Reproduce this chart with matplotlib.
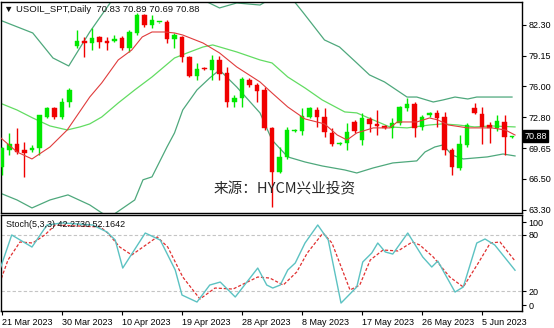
import matplotlib
matplotlib.use("Agg")
import matplotlib.pyplot as plt
import matplotlib.transforms as mtransforms

# daily candles, bar 0 = 21 Mar 2023
opens = [67.70, 69.47, 70.08, 69.47, 69.47, 69.67, 72.85, 73.78, 72.85, 74.40,
         80.14, 80.66, 80.45, 81.07, 80.66, 80.66, 80.97, 79.94, 81.48, 83.33,
         82.30, 82.60, 82.60, 80.86, 81.07, 79.01, 77.06, 77.89, 77.68, 78.71,
         77.37, 74.40, 74.80, 76.65, 76.14, 75.63, 71.73, 67.21, 68.75, 71.42,
         71.42, 72.85, 73.57, 72.85, 71.21, 70.10, 70.19, 72.34, 70.49, 72.65,
         72.14, 71.93, 71.73, 72.24, 73.78, 74.19, 71.83, 73.06, 73.27, 72.85,
         69.47, 67.62, 69.98, 73.78, 73.16, 72.03, 71.73, 72.34, 70.83]
highs = [69.80, 71.20, 71.70, 70.30, 70.00, 73.10, 73.90, 73.90, 74.80, 75.80,
         81.80, 81.07, 82.00, 81.17, 81.07, 81.27, 81.17, 81.80, 83.53, 83.43,
         83.33, 82.65, 82.81, 81.48, 81.17, 79.10, 78.40, 77.95, 79.22, 79.10,
         78.00, 75.10, 76.96, 76.86, 76.35, 75.93, 71.83, 69.78, 71.83, 71.60,
         73.78, 73.90, 73.88, 73.78, 71.73, 70.25, 72.24, 72.55, 73.27, 72.85,
         73.57, 72.00, 72.75, 73.98, 74.80, 74.40, 73.06, 73.40, 73.57, 73.37,
         69.67, 71.00, 72.24, 74.29, 73.88, 72.34, 73.06, 73.06, 70.89]
lows = [66.90, 68.95, 69.05, 66.70, 69.30, 68.95, 72.75, 72.65, 72.65, 73.88,
        79.94, 79.00, 79.73, 79.94, 79.73, 80.55, 79.73, 79.50, 81.27, 82.10,
        81.99, 82.50, 80.45, 79.94, 78.50, 76.96, 76.65, 77.70, 76.65, 76.65,
        73.88, 73.88, 73.88, 75.90, 74.40, 71.52, 63.60, 67.10, 68.54, 71.30,
        71.00, 72.75, 71.83, 70.80, 69.88, 70.00, 69.47, 71.21, 69.98, 71.31,
        71.00, 71.60, 70.70, 72.03, 73.47, 70.80, 71.52, 72.90, 71.83, 68.95,
        66.90, 67.41, 69.78, 73.20, 70.08, 70.19, 71.42, 68.95, 70.69]
closes = [69.67, 70.08, 69.26, 69.16, 69.67, 73.06, 73.78, 72.85, 74.40, 75.63,
          80.66, 80.45, 80.97, 80.55, 80.45, 80.86, 79.94, 81.58, 83.33, 82.30,
          82.81, 82.60, 80.86, 81.27, 79.01, 77.06, 77.78, 77.78, 78.71, 77.27,
          74.40, 74.80, 76.76, 76.14, 75.52, 71.73, 67.21, 68.75, 71.52, 71.52,
          72.96, 73.78, 72.85, 71.31, 70.08, 70.19, 71.31, 71.42, 72.75, 72.14,
          71.93, 71.73, 72.24, 73.88, 74.19, 71.73, 72.85, 73.27, 72.75, 69.47,
          67.72, 70.08, 72.03, 73.27, 71.83, 71.73, 72.44, 70.80, 70.88]

date_labels = ["21 Mar 2023", "30 Mar 2023", "10 Apr 2023", "19 Apr 2023", "28 Apr 2023",
               "8 May 2023", "17 May 2023", "26 May 2023", "5 Jun 2023"]
date_bars = [0, 8, 16, 24, 32, 40, 48, 56, 64]

price_ticks = [82.30, 79.15, 76.00, 72.80, 69.65, 66.50, 63.30]

# indicator lines (bar position, value)
upper_x = [-0.3, 4.1, 6.8, 8.9, 11.7, 14.7, 17, 20, 23, 26.8, 29, 31.3, 34.4, 36.5, 38.8,
           40.1, 43, 45, 47.3, 49, 51, 54, 55.3, 57.5, 58.8, 60.4, 62.1, 63.3, 68]
upper_y = [82.81, 81.48, 78.91, 78.09, 81.58, 84.87, 87.0, 88.5, 87.5, 84.87, 84.05, 84.56,
           84.35, 85.3, 84.87, 83.63, 80.76, 80.04, 78.40, 77.17, 76.45, 74.90, 74.90,
           74.39, 74.60, 74.90, 74.70, 74.90, 74.90]
mid_x = [-0.3, 2, 4.1, 6.4, 8.7, 10.4, 11.7, 13.3, 15.5, 17.7, 20, 23, 24.7, 26.8, 28.1,
         31.3, 34.4, 36, 38.1, 40.4, 42.7, 45.7, 47.3, 49.5, 51.7, 54, 57, 58.7, 60.8,
         63, 65.3, 68.4]
mid_y = [74.29, 73.57, 72.75, 71.93, 71.52, 71.83, 72.14, 72.85, 74.29, 75.63, 76.96,
         78.91, 79.43, 80.04, 80.25, 79.53, 78.71, 78.40, 76.96, 75.83, 74.60, 73.37,
         73.27, 72.55, 71.83, 71.73, 72.03, 72.14, 72.03, 71.83, 71.93, 71.83]
lower_x = [-0.3, 2, 4, 6.4, 8.8, 11.7, 13.5, 15, 17.7, 18.8, 20, 22, 23, 24.1, 26, 27.7,
           29, 31.3, 34.4, 36, 38.1, 40.4, 42.7, 45.7, 47.3, 49.5, 52.1, 55.3, 56.4,
           57.7, 58.8, 60, 61.5, 64.7, 66.8, 68.4]
lower_y = [65.05, 64.33, 63.51, 64.33, 64.85, 63.82, 62.90, 62.90, 64.33, 66.40, 66.70,
           69.77, 71.21, 73.57, 75.63, 76.86, 77.68, 75.93, 73.27, 70.49, 68.75, 68.23,
           67.82, 67.41, 67.10, 67.62, 68.13, 68.34, 69.26, 69.77, 69.98, 68.95, 68.54,
           68.75, 69.05, 68.85]
ma_x = [-0.3, 2, 4, 6.4, 8.7, 11.7, 13.3, 15.5, 17.3, 18.7, 20, 21.7, 23, 24.1, 26.8, 29,
        31.3, 34.4, 36, 38.1, 40.4, 43, 44.7, 46, 47.3, 49.5, 51.7, 52.7, 55.3, 57, 58.1,
        59.5, 62.1, 65.3, 67.1, 68.4]
ma_y = [70.80, 69.26, 68.54, 69.77, 71.52, 74.90, 76.35, 78.71, 79.73, 81.07, 81.58,
        81.58, 81.48, 81.27, 80.45, 79.43, 77.99, 76.45, 75.32, 73.88, 72.65, 72.14,
        71.00, 70.49, 71.21, 71.73, 71.73, 72.34, 72.34, 72.75, 72.55, 72.03, 71.73,
        71.73, 71.52, 71.00]

# stochastic (5,3,3)
k_x = [-0.3, 1.3, 4, 6, 8, 12.1, 14, 15.1, 16.1, 19.1, 21.1, 23.1, 24, 26, 27.7, 29.1,
       31.1, 34.1, 35.3, 36.1, 37.1, 38.1, 39.1, 40.4, 42.1, 43.5, 45.2, 47.3, 48.1,
       49.3, 50.1, 51.1, 52.1, 54.1, 56.1, 57.3, 58.1, 60.4, 61.5, 63.3, 64.4, 65.7, 68.4]
k_y = [42.5, 80.0, 67.1, 90.7, 92.9, 90.7, 83.2, 74.6, 44.6, 82.1, 74.6, 42.5, 15.7, 8.2,
       26.4, 29.6, 13.6, 44.6, 26.4, 23.2, 26.4, 42.5, 50.0, 71.4, 90.7, 74.6, 7.1, 24.3,
       51.1, 60.7, 71.4, 61.8, 59.6, 82.1, 56.4, 45.7, 52.1, 18.9, 24.3, 71.4, 75.7, 69.3,
       42.27]
d_x = [-0.3, 0.8, 2.4, 4.1, 5.7, 7.1, 13.1, 14.1, 15.7, 17.3, 18.8, 20.7, 22.1, 24.1,
       26.4, 28.4, 30.8, 34.1, 35.7, 37.5, 39.3, 40.7, 42.8, 44, 46.4, 47.7, 49.1, 50.8,
       52.8, 54.7, 55.7, 57.5, 59.7, 61.5, 63.5, 65.1, 66.4, 68.4]
d_y = [28.6, 53.2, 72.5, 71.4, 80.0, 90.7, 88.6, 82.1, 67.1, 58.6, 67.1, 77.9, 67.1, 35.0,
       11.4, 23.2, 22.1, 35.0, 33.9, 26.4, 40.4, 60.7, 82.1, 71.4, 21.1, 26.4, 53.2, 63.9,
       62.9, 72.5, 69.3, 56.4, 35.0, 24.3, 50.0, 71.4, 72.5, 52.16]

FONT = "Liberation Sans"
UP = "#00e800"
DOWN = "#f00000"

fig = plt.figure(figsize=(5.54, 3.28), dpi=100)
ax = fig.add_axes([1 / 554, 1 - 213 / 328, 521 / 554, 211 / 328])
ax2 = fig.add_axes([1 / 554, 1 - 311 / 328, 521 / 554, 96 / 328])

# candles
for i in range(len(opens)):
    o, h, l, c = opens[i], highs[i], lows[i], closes[i]
    col = UP if c >= o else DOWN
    ax.vlines(i, l, h, color=col, lw=1.0, zorder=3)
    ax.bar(i, max(abs(c - o), 0.06), bottom=min(o, c), width=0.62, color=col,
           edgecolor=col, lw=0.3, zorder=4)

ax.plot(upper_x, upper_y, color="#4ea87c", lw=0.9, zorder=2)
ax.plot(lower_x, lower_y, color="#4ea87c", lw=0.9, zorder=2)
ax.plot(mid_x, mid_y, color="#62dc62", lw=0.9, zorder=2)
ax.plot(ma_x, ma_y, color="#e03c3c", lw=0.8, zorder=5)

ax.set_xlim(-0.13, 69.33)
ax.set_ylim(62.99, 84.66)
ax.yaxis.tick_right()
ax.set_yticks(price_ticks)
ax.set_yticklabels(["%.2f" % v for v in price_ticks], fontsize=6.5, family=FONT)
ax.tick_params(axis="y", length=3, width=0.8, pad=1.5)
ax.set_xticks([])

ax.text(0.006, 0.985, "\u25bc USOIL_SPT,Daily  70.83 70.89 70.69 70.88", transform=ax.transAxes,
        fontsize=6.8, family=["Liberation Sans", "DejaVu Sans"], va="top", ha="left", color="#111111")

price_tr = mtransforms.blended_transform_factory(ax.transAxes, ax.transData)
ax.text(1.004, closes[-1], "%.2f" % closes[-1], transform=price_tr, fontsize=6.5, family=FONT,
        color="white", va="center", ha="left",
        bbox=dict(boxstyle="square,pad=0.15", facecolor="black", edgecolor="black"))

ax.text(0.545, 0.11, "来源：HYCM兴业投资", transform=ax.transAxes, fontsize=10.5,
        family=["Noto Sans CJK SC", "DejaVu Sans"], color="#2a2a2a", ha="center", va="center")

# stochastic panel
ax2.axhline(80, color="#c4c4c4", lw=0.8, ls=(0, (3, 2)), zorder=1)
ax2.axhline(20, color="#c4c4c4", lw=0.8, ls=(0, (3, 2)), zorder=1)
ax2.plot(k_x, k_y, color="#5cc2c2", lw=1.0, zorder=3)
ax2.plot(d_x, d_y, color="#e03030", lw=0.9, ls=(0, (2.5, 1.5)), zorder=2)
ax2.set_xlim(-0.13, 69.33)
ax2.set_ylim(-1.4, 101.4)
ax2.yaxis.tick_right()
ax2.set_yticks([5.0, 20, 80, 93.9])
ax2.set_yticklabels(["0", "20", "80", "100"], fontsize=6.5, family=FONT)
ax2.tick_params(axis="y", length=3, width=0.8, pad=1.5)
ax2.set_xticks(date_bars)
ax2.set_xticklabels(date_labels, fontsize=6.5, family=FONT, ha="left")
ax2.tick_params(axis="x", length=3, width=0.8, pad=2)
ax2.text(0.01, 0.95, "Stoch(5,3,3) 42.2730 52.1642", transform=ax2.transAxes, fontsize=6.5,
         family=FONT, va="top", ha="left", color="#111111")

for a in (ax, ax2):
    for s in a.spines.values():
        s.set_linewidth(1.0)
        s.set_color("black")

fig.savefig("out.png", dpi=100)
